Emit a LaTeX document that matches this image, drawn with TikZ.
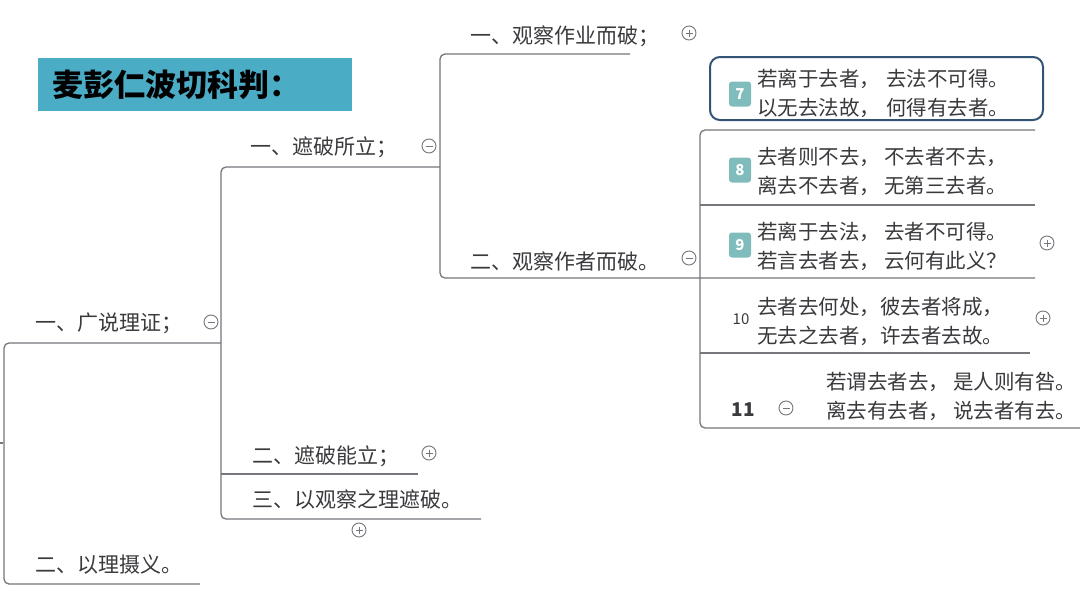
\documentclass[tikz,border=0pt]{standalone}
\usepackage{fontspec}
\setmainfont{Noto Sans CJK SC}
\definecolor{linegray}{RGB}{118,118,124}
\definecolor{txtgray}{RGB}{58,58,62}
\definecolor{titlecyan}{RGB}{75,172,198}
\definecolor{boxblue}{RGB}{52,84,118}
\definecolor{badgeteal}{RGB}{128,188,188}
\begin{document}
\begin{tikzpicture}[x=1pt, y=-1pt,
    branch/.style={draw=linegray, line width=1.3pt, rounded corners=5pt},
    lbl/.style={anchor=west, inner sep=0pt, text=txtgray, font=\fontsize{21}{24}\selectfont},
    verse/.style={anchor=west, inner sep=0pt, text=txtgray, align=left, font=\fontsize{20.5}{29}\selectfont},
    badge/.style={fill=badgeteal, rounded corners=3pt, minimum width=22pt, minimum height=25pt,
        inner sep=0pt, text=white, font=\fontsize{15}{15}\selectfont\bfseries},
    num/.style={inner sep=0pt, text=txtgray}]
    \useasboundingbox (0,0) rectangle (1080,608);
    \fill[white] (0,0) rectangle (1080,608);

    % タイトル
    \node[fill=titlecyan, minimum width=314pt, minimum height=53pt, inner sep=0pt] (titlebox) at (195,84.5) {};
    \node[anchor=west, inner sep=0pt, font=\fontsize{31}{34}\selectfont\bfseries] (title) at (52,85) {麦彭仁波切科判：};

    % 枝の線
    \draw[branch] (0,443) -- (3,443);
    \draw[branch] (221,343) -- (4,343) -- (4,584) -- (200,584);
    \draw[branch] (440,167) -- (221,167) -- (221,519) -- (481,519);
    \draw[branch] (221,474) -- (418,474);
    \draw[branch] (630,54) -- (440,54) -- (440,278) -- (1035,278);
    \draw[branch] (1035,130) -- (700,130) -- (700,428) -- (1080,428);
    \draw[branch] (700,205) -- (1035,205);
    \draw[branch] (700,353) -- (1030,353);

    \node[lbl] (a1) at (35,323) {一、广说理证；};
    \node[lbl] (a2) at (35,565) {二、以理摄义。};
    \node[lbl] (b1) at (250,147) {一、遮破所立；};
    \node[lbl] (b2) at (252,456) {二、遮破能立；};
    \node[lbl] (b3) at (252,500) {三、以观察之理遮破。};
    \node[lbl] (c1) at (470,36) {一、观察作业而破；};
    \node[lbl] (c2) at (470,261) {二、观察作者而破。};

    % 偈頌
    \node[draw=boxblue, line width=2pt, rounded corners=10pt, minimum width=333pt, minimum height=63pt] (v7box) at (876.5,88.5) {};
    \node[badge] (b7) at (740,94) {7};
    \node[verse] (v7) at (757,93) {若离于去者，\hspace{6pt}去法不可得。\\以无去法故，\hspace{6pt}何得有去者。};
    \node[badge] (b8) at (740,170) {8};
    \node[verse] (v8) at (757,171) {去者则不去，\hspace{4pt}不去者不去，\\离去不去者，\hspace{4pt}无第三去者。};
    \node[badge] (b9) at (740,245) {9};
    \node[verse] (v9) at (757,246) {若离于去法，\hspace{4pt}去者不可得。\\若言去者去，\hspace{4pt}云何有此义？};
    \node[num, font=\fontsize{15}{15}\selectfont] (n10) at (741,319) {10};
    \node[verse] (v10) at (757,321) {去者去何处，彼去者将成，\\无去之去者，许去者去故。};
    \node[num, font=\fontsize{19}{19}\selectfont\bfseries] (n11) at (743,410) {11};
    \node[verse] (v11) at (826,396) {若谓去者去，\hspace{4pt}是人则有咎。\\离去有去者，\hspace{4pt}说去者有去。};

    % 折りたたみ記号 (1 = plus)
    \foreach \x/\y/\s in {211/322/0, 429/146/0, 429/453/1, 359/530/1, 689/33/1,
                          689/258/0, 1047/243/1, 1043/318/1, 786/408/0} {
        \draw[linegray, line width=0.9pt, fill=white] (\x,\y) circle (7);
        \draw[linegray, line width=0.9pt] (\x-3.5,\y) -- (\x+3.5,\y);
        \ifnum\s=1 \draw[linegray, line width=0.9pt] (\x,\y-3.5) -- (\x,\y+3.5); \fi
    }
\end{tikzpicture}
\end{document}
